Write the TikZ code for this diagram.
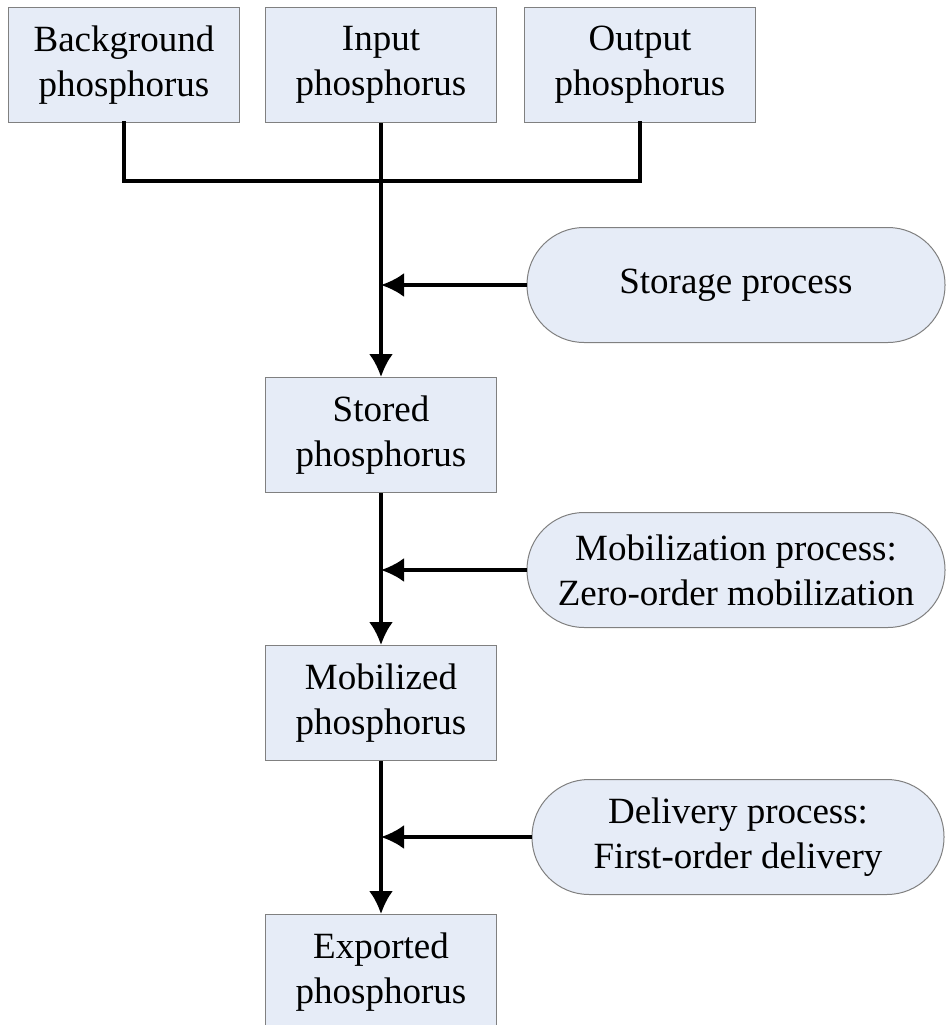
\documentclass[tikz,border=0pt]{standalone}
\usepackage{fontspec}
\setmainfont{Liberation Serif}
\usetikzlibrary{arrows.meta}

\definecolor{boxfill}{RGB}{230,236,247}
\definecolor{boxline}{RGB}{128,128,128}

\tikzset{
  pool/.style={draw=boxline, fill=boxfill, line width=1pt, minimum width=231, minimum height=115, align=center, inner sep=0pt, font=\fontsize{37}{45}\selectfont},
  process/.style={pool, minimum width=418, rounded corners=57},
  link/.style={line width=3.5pt, line cap=rect},
  flow/.style={line width=3.5pt, -{Latex[length=23pt,width=24pt]}},
}

\begin{document}
\begin{tikzpicture}[x=1pt,y=1pt,yscale=-1,xscale=1]
\useasboundingbox (0,0) rectangle (945,1025);

% Source pools
\node [pool] (bg) at (124,65) {Background\\phosphorus};
\node [pool] (in) at (381,65) {Input\\phosphorus};
\node [pool] (out) at (640,65) {Output\\phosphorus};

% Pools along the chain
\node [pool] (stored) at (381,435) {Stored\\phosphorus};
\node [pool] (mobil) at (381,703) {Mobilized\\phosphorus};
\node [pool] (export) at (381,972) {Exported\\phosphorus};

% Processes
\node [process] (storage) at (736,285) {Storage process};
\node [process] (mobproc) at (736,570) {Mobilization process:\\Zero-order mobilization};
\node [process, minimum width=412] (delproc) at (738,837) {Delivery process:\\First-order delivery};

% Connectors
\coordinate (bar) at (381,181);
\draw [link] (bg.south) |- (bar) -| (out.south);
\draw [flow] (in.south) -- (stored.north);
\draw [flow] (stored.south) -- (mobil.north);
\draw [flow] (mobil.south) -- (export.north);

\draw [flow] (storage.west) -- (storage.west -| in.south);
\draw [flow] (mobproc.west) -- (mobproc.west -| in.south);
\draw [flow] (delproc.west) -- (delproc.west -| in.south);
\end{tikzpicture}
\end{document}
